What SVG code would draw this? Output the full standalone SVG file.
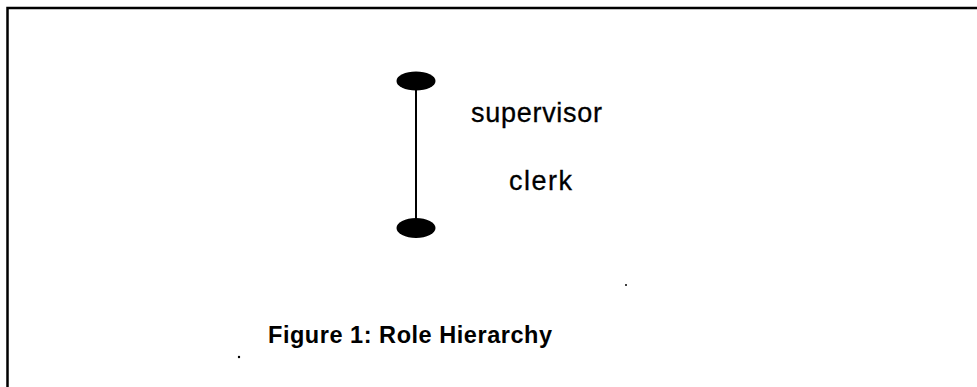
<svg xmlns="http://www.w3.org/2000/svg" width="977" height="387" viewBox="0 0 977 387">
<style>
.lbl{font-family:"Liberation Sans",Arial,sans-serif;font-size:27px;fill:#000;stroke:#000;stroke-width:0.3}
.ttl{font-family:"Liberation Sans",Arial,sans-serif;font-size:23.5px;font-weight:bold;fill:#000}
.node{fill:#000}
.edge{stroke:#000;stroke-width:2;fill:none}
</style>
<rect width="977" height="387" fill="#fff"/>
<path d="M7.5,387 V8 H977" fill="none" stroke="#000" stroke-width="2.5"/>
<g id="connectors">
<line class="edge" x1="416" y1="88" x2="416" y2="222"/>
</g>
<g id="node-supervisor">
<ellipse class="node" cx="416" cy="81" rx="19.5" ry="9.5"/>
<text class="lbl" x="471" y="122" textLength="131" lengthAdjust="spacing">supervisor</text>
</g>
<g id="node-clerk">
<ellipse class="node" cx="416" cy="228" rx="19.5" ry="10"/>
<text class="lbl" x="509" y="190" textLength="63" lengthAdjust="spacing">clerk</text>
</g>
<text class="ttl" x="268" y="343" textLength="284" lengthAdjust="spacing">Figure 1: Role Hierarchy</text>
<circle cx="626" cy="285" r="1" fill="#000"/>
<circle cx="239" cy="357" r="1.2" fill="#000"/>
</svg>
